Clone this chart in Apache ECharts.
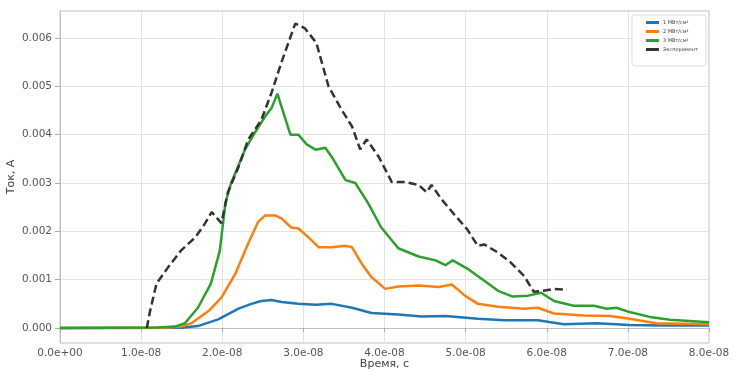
<!DOCTYPE html>
<html><head><meta charset="utf-8">
<script src="https://cdn.jsdelivr.net/npm/echarts@6/dist/echarts.min.js"></script>
<style>html,body{margin:0;padding:0;background:#fff}#c{width:733px;height:372px}</style>
</head><body><div id="c"></div>
<script>
const seriesNames = ['1 МВт/см²', '2 МВт/см²', '3 МВт/см²', 'Эксперимент'];
const yTicks = [0, 0.001, 0.002, 0.003, 0.004, 0.005, 0.006];

const t1 = [0, 1.5e-8, 1.70e-8, 1.95e-8, 2.20e-8, 2.36e-8, 2.48e-8, 2.61e-8, 2.73e-8, 2.94e-8, 3.15e-8, 3.35e-8, 3.60e-8, 3.84e-8, 4.17e-8, 4.46e-8, 4.75e-8, 5.15e-8, 5.48e-8, 5.89e-8, 6.21e-8, 6.62e-8, 7.02e-8, 7.43e-8, 8.0e-8];
const i1 = [0, 0.000005, 0.00004, 0.00018, 0.00040, 0.00050, 0.00056, 0.00058, 0.00054, 0.00050, 0.00048, 0.00050, 0.00042, 0.00031, 0.00028, 0.00024, 0.00025, 0.00019, 0.00016, 0.00016, 0.00008, 0.00010, 0.00006, 0.00005, 0.00005];

const t2 = [0, 1.3e-8, 1.5e-8, 1.62e-8, 1.83e-8, 1.99e-8, 2.16e-8, 2.32e-8, 2.44e-8, 2.53e-8, 2.65e-8, 2.73e-8, 2.85e-8, 2.94e-8, 3.06e-8, 3.19e-8, 3.35e-8, 3.52e-8, 3.60e-8, 3.72e-8, 3.84e-8, 4.01e-8, 4.17e-8, 4.42e-8, 4.67e-8, 4.83e-8, 4.99e-8, 5.15e-8, 5.40e-8, 5.72e-8, 5.89e-8, 6.09e-8, 6.46e-8, 6.78e-8, 7.02e-8, 7.35e-8, 8.0e-8];
const i2 = [0, 0.000005, 0.00003, 0.00010, 0.00035, 0.00063, 0.00112, 0.00175, 0.00219, 0.00233, 0.00233, 0.00227, 0.00208, 0.00206, 0.00188, 0.00167, 0.00167, 0.00170, 0.00167, 0.00133, 0.00105, 0.00081, 0.00086, 0.00088, 0.00085, 0.00090, 0.00067, 0.00050, 0.00044, 0.00040, 0.00042, 0.00030, 0.00026, 0.00025, 0.00019, 0.00010, 0.00008];

const t3 = [0, 1.2e-8, 1.42e-8, 1.54e-8, 1.70e-8, 1.86e-8, 1.97e-8, 2.04e-8, 2.11e-8, 2.28e-8, 2.40e-8, 2.53e-8, 2.61e-8, 2.68e-8, 2.73e-8, 2.84e-8, 2.94e-8, 3.04e-8, 3.15e-8, 3.27e-8, 3.35e-8, 3.52e-8, 3.64e-8, 3.80e-8, 3.96e-8, 4.17e-8, 4.42e-8, 4.63e-8, 4.75e-8, 4.84e-8, 5.02e-8, 5.23e-8, 5.40e-8, 5.58e-8, 5.77e-8, 5.93e-8, 6.09e-8, 6.33e-8, 6.58e-8, 6.74e-8, 6.86e-8, 7.02e-8, 7.27e-8, 7.52e-8, 8.0e-8];
const i3 = [0, 0.00001, 0.00003, 0.00010, 0.00042, 0.00092, 0.00160, 0.00260, 0.00300, 0.00369, 0.00404, 0.00438, 0.00456, 0.00485, 0.00458, 0.00400, 0.00400, 0.00380, 0.00369, 0.00373, 0.00354, 0.00306, 0.00300, 0.00258, 0.00208, 0.00165, 0.00148, 0.00140, 0.00130, 0.00140, 0.00123, 0.00098, 0.00077, 0.00065, 0.00067, 0.00073, 0.00056, 0.00046, 0.00046, 0.00040, 0.00042, 0.00033, 0.00023, 0.00017, 0.00012];

const tE = [1.07e-8, 1.11e-8, 1.19e-8, 1.33e-8, 1.49e-8, 1.67e-8, 1.79e-8, 1.87e-8, 1.99e-8, 2.07e-8, 2.20e-8, 2.32e-8, 2.48e-8, 2.61e-8, 2.73e-8, 2.90e-8, 3.02e-8, 3.16e-8, 3.31e-8, 3.47e-8, 3.60e-8, 3.70e-8, 3.78e-8, 3.93e-8, 4.09e-8, 4.26e-8, 4.42e-8, 4.52e-8, 4.58e-8, 4.70e-8, 4.86e-8, 5.02e-8, 5.15e-8, 5.23e-8, 5.40e-8, 5.56e-8, 5.72e-8, 5.84e-8, 5.96e-8, 6.09e-8, 6.25e-8];
const iE = [0, 0.00035, 0.00092, 0.00125, 0.00160, 0.00188, 0.00217, 0.00240, 0.00217, 0.00281, 0.00333, 0.00390, 0.00430, 0.00488, 0.00550, 0.00630, 0.00620, 0.00590, 0.00500, 0.00452, 0.00417, 0.00370, 0.00390, 0.00354, 0.00302, 0.00302, 0.00296, 0.00281, 0.00296, 0.00267, 0.00235, 0.00204, 0.00170, 0.00173, 0.00156, 0.00135, 0.00108, 0.00075, 0.00077, 0.00081, 0.00079];

function zip(a, b) { return a.map((v, k) => [v, b[k]]); }
function fmtExp(v) {
  let s = Number(v).toExponential(1);
  let m = s.match(/^(-?[\d.]+)e([+-])(\d+)$/);
  if (!m) return s;
  let e = m[3].length < 2 ? '0' + m[3] : m[3];
  return m[1] + 'e' + m[2] + e;
}

const colors = ['#1f77b4', '#ff7f0e', '#2ca02c', '#333333'];
const chart = echarts.init(document.getElementById('c'), null, {renderer: 'canvas'});
const font = 'DejaVu Sans';
chart.setOption({
  animation: false,
  color: colors,
  textStyle: {fontFamily: font},
  grid: {left: 60, right: 24, top: 11, bottom: 29, show: true, borderColor: '#c0c0c0', borderWidth: 1, containLabel: false, outerBoundsMode: 'none'},
  legend: {
    data: seriesNames,
    orient: 'vertical',
    right: 27, top: 15,
    itemWidth: 13, itemHeight: 3, itemGap: 4,
    icon: 'rect',
    padding: [5, 8, 14, 14],
    backgroundColor: '#fff',
    borderColor: '#ddd', borderWidth: 1, borderRadius: 3,
    textStyle: {fontSize: 5, color: '#444', fontFamily: font, padding: [0, 0, 0, -1]}
  },
  xAxis: {
    type: 'value', min: 0, max: 8e-8, interval: 1e-8,
    name: 'Время, с', nameLocation: 'middle', nameGap: 16, nameMoveOverlap: false,
    nameTextStyle: {fontSize: 11, color: '#444'},
    axisLine: {show: true, lineStyle: {color: '#c0c0c0'}},
    axisTick: {show: true, length: 4, lineStyle: {color: '#aaa'}},
    axisLabel: {fontSize: 10.5, color: '#555', margin: 5, formatter: fmtExp, showMinLabel: true, showMaxLabel: true},
    splitLine: {show: true, lineStyle: {color: '#e3e3e3', width: 1}}
  },
  yAxis: {
    type: 'value', min: -0.00031, max: 0.00656,
    name: 'Ток, А', nameLocation: 'middle', nameGap: 43, nameMoveOverlap: false,
    nameTextStyle: {fontSize: 11, color: '#444'},
    axisLine: {show: true, lineStyle: {color: '#c0c0c0'}},
    axisTick: {show: true, length: 5, lineStyle: {color: '#aaa'}, customValues: yTicks},
    axisLabel: {fontSize: 10.5, color: '#555', margin: 8, customValues: yTicks, formatter: v => v.toFixed(3)},
    splitLine: {show: true, lineStyle: {color: '#e3e3e3', width: 1}, customValues: yTicks}
  },
  series: [
    {name: seriesNames[0], type: 'line', data: zip(t1, i1), showSymbol: false, lineStyle: {width: 2.5, color: colors[0]}, z: 2},
    {name: seriesNames[1], type: 'line', data: zip(t2, i2), showSymbol: false, lineStyle: {width: 2.5, color: colors[1]}, z: 3},
    {name: seriesNames[2], type: 'line', data: zip(t3, i3), showSymbol: false, lineStyle: {width: 2.5, color: colors[2]}, z: 4},
    {name: seriesNames[3], type: 'line', data: zip(tE, iE), showSymbol: false, lineStyle: {width: 2.5, color: colors[3], type: [8, 4]}, z: 5}
  ]
});
</script></body></html>
